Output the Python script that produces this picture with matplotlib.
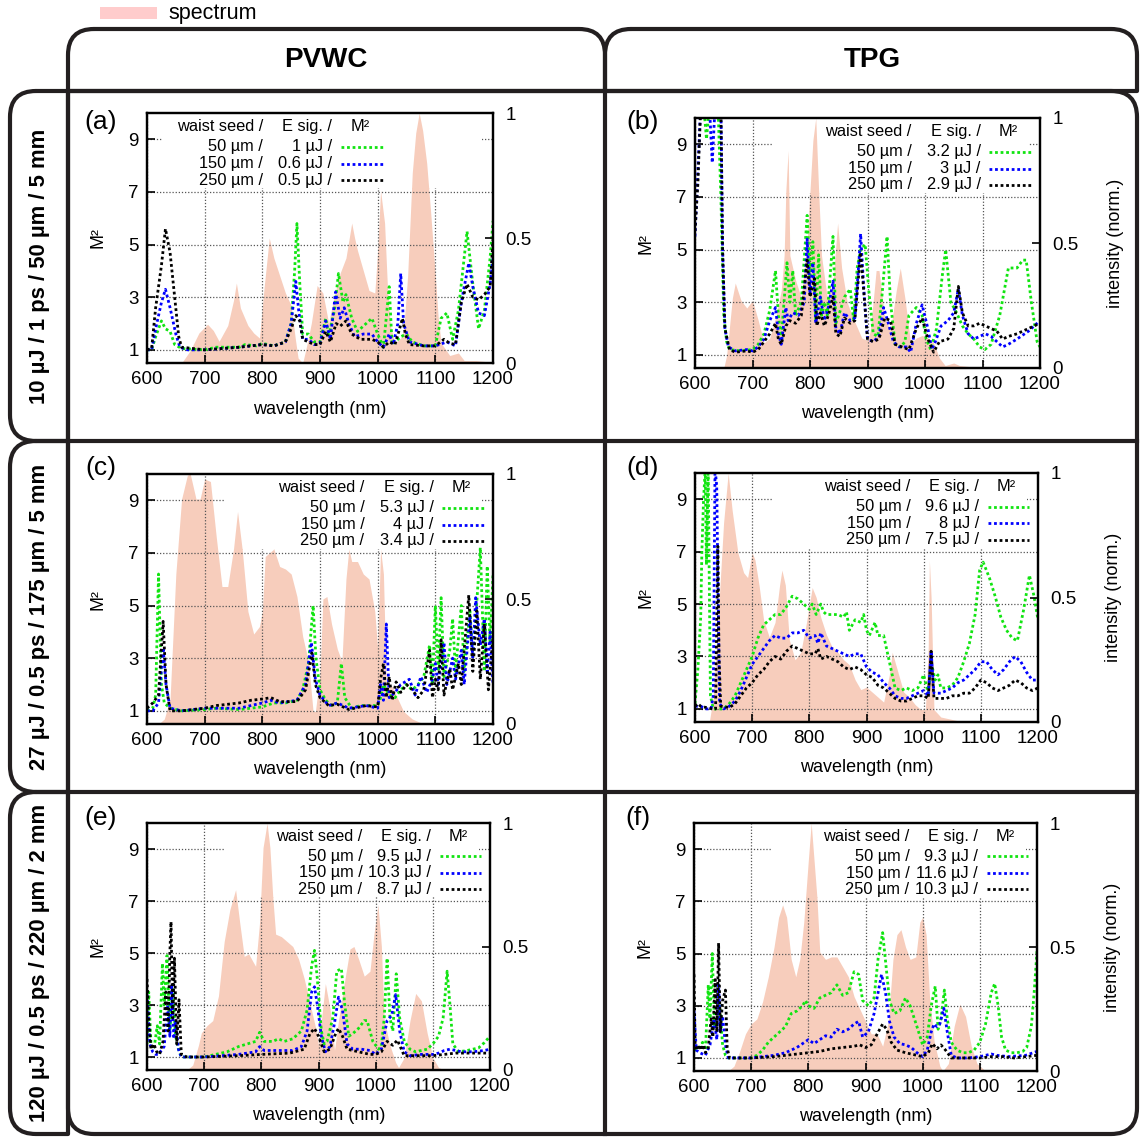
import numpy as np
import matplotlib
matplotlib.use('Agg')
import matplotlib.pyplot as plt
from matplotlib.path import Path
from matplotlib.patches import PathPatch, Rectangle

plt.rcParams['font.family'] = ['Liberation Sans', 'DejaVu Sans']

# Подписи столбцов и строк.
col_titles = ['PVWC', 'TPG']
row_titles = ['10 µJ / 1 ps / 50 µm / 5 mm',
              '27 µJ / 0.5 ps / 175 µm / 5 mm',
              '120 µJ / 0.5 ps / 220 µm / 2 mm']
tags = ['(a)', '(b)', '(c)', '(d)', '(e)', '(f)']
seeds = ['50 µm /', '150 µm /', '250 µm /']
energies = [['1 µJ /', '0.6 µJ /', '0.5 µJ /'],
            ['3.2 µJ /', '3 µJ /', '2.9 µJ /'],
            ['5.3 µJ /', '4 µJ /', '3.4 µJ /'],
            ['9.6 µJ /', '8 µJ /', '7.5 µJ /'],
            ['9.5 µJ /', '10.3 µJ /', '8.7 µJ /'],
            ['9.3 µJ /', '11.6 µJ /', '10.3 µJ /']]

# ---- (a) ----
a_spec = [(600, 0), (660, 0), (675, 0.05), (690, 0.12), (705, 0.155), (715, 0.13), (725, 0.087),
          (740, 0.15), (750, 0.25), (755, 0.32), (762, 0.22), (775, 0.15), (785, 0.12), (795, 0.10),
          (803, 0.3), (812, 0.50), (820, 0.42), (830, 0.35), (840, 0.28), (850, 0.23), (857, 0.1),
          (862, 0.02), (870, 0.0), (878, 0.08), (885, 0.16), (895, 0.31), (905, 0.28), (915, 0.16),
          (925, 0.27), (935, 0.36), (945, 0.42), (955, 0.56), (960, 0.5), (965, 0.45), (975, 0.37),
          (985, 0.29), (995, 0.28), (1000, 0.45), (1005, 0.69), (1012, 0.56), (1017, 0.3), (1022, 0.15),
          (1030, 0.08), (1040, 0.10), (1045, 0.13), (1052, 0.35), (1060, 0.76), (1066, 0.92), (1072, 1.0),
          (1078, 0.93), (1085, 0.8), (1092, 0.6), (1100, 0.35), (1105, 0.18), (1110, 0.08), (1125, 0.03),
          (1140, 0.04), (1150, 0.01), (1170, 0.01), (1190, 0.005), (1200, 0)]
a_green = [(600, 1.0), (608, 1.0), (615, 1.5), (625, 2.1), (632, 1.8), (640, 1.7), (648, 1.2), (660, 1.05),
           (700, 1.0), (720, 1.1), (760, 1.1), (770, 1.2), (790, 1.15), (800, 1.25), (820, 1.15), (840, 1.3),
           (850, 2.0), (856, 4.0), (860, 5.8), (865, 3.5), (870, 1.6), (880, 1.6), (890, 1.3), (900, 1.3),
           (910, 2.2), (915, 1.5), (925, 2.5), (932, 3.9), (940, 2.8), (945, 3.1), (955, 2.2), (965, 1.7),
           (975, 1.9), (990, 2.2), (1000, 1.6), (1010, 1.1), (1020, 3.4), (1025, 1.2), (1040, 1.5),
           (1050, 1.6), (1060, 1.3), (1080, 1.15), (1100, 1.15), (1110, 2.2), (1120, 2.4), (1130, 1.4),
           (1140, 2.5), (1155, 5.5), (1165, 3.5), (1175, 1.8), (1185, 2.5), (1195, 4.5), (1200, 5.9)]
a_blue = [(600, 1.0), (608, 1.0), (615, 1.8), (625, 2.8), (632, 3.3), (640, 2.6), (650, 1.6), (657, 1.1),
          (670, 1.0), (700, 1.0), (760, 1.1), (800, 1.2), (820, 1.15), (840, 1.3), (850, 2.0), (858, 3.6),
          (863, 2.5), (870, 1.4), (880, 1.4), (890, 1.2), (900, 1.25), (910, 2.1), (918, 1.4), (927, 3.2),
          (935, 2.2), (942, 2.6), (950, 2.0), (960, 1.5), (975, 1.6), (990, 1.6), (1000, 1.3), (1010, 1.1),
          (1020, 1.6), (1027, 1.2), (1035, 2.0), (1040, 3.9), (1045, 2.0), (1055, 1.3), (1080, 1.15),
          (1100, 1.15), (1120, 1.3), (1135, 1.15), (1145, 2.8), (1158, 4.3), (1165, 3.4), (1175, 2.4),
          (1185, 2.3), (1195, 3.5), (1200, 4.5)]
a_black = [(600, 1.0), (608, 1.05), (615, 2.6), (625, 4.2), (632, 5.6), (640, 4.7), (648, 3.0), (655, 1.5),
           (660, 1.1), (700, 1.0), (760, 1.1), (800, 1.2), (820, 1.15), (840, 1.3), (850, 1.8), (858, 2.3),
           (865, 2.1), (870, 1.4), (890, 1.2), (900, 1.2), (910, 1.7), (918, 1.3), (928, 2.0), (935, 1.9),
           (945, 2.1), (955, 1.6), (970, 1.4), (990, 1.4), (1000, 1.3), (1010, 1.1), (1020, 1.3), (1030, 1.2),
           (1038, 1.8), (1043, 2.2), (1048, 1.6), (1055, 1.2), (1080, 1.15), (1100, 1.15), (1115, 1.4),
           (1125, 1.25), (1135, 1.2), (1145, 2.8), (1155, 3.5), (1165, 3.0), (1175, 2.9), (1185, 3.1),
           (1195, 3.4), (1200, 5.2)]

# ---- (b) ----
b_spec = [(600, 0), (650, 0), (655, 0.05), (665, 0.28), (670, 0.34), (680, 0.27), (690, 0.24), (700, 0.27),
          (710, 0.19), (720, 0.10), (730, 0.12), (740, 0.2), (750, 0.31), (755, 0.45), (758, 0.71), (762, 0.87),
          (765, 0.45), (775, 0.35), (785, 0.28), (795, 0.51), (800, 0.71), (805, 0.91), (810, 1.0), (815, 0.71),
          (820, 0.45), (830, 0.28), (840, 0.34), (848, 0.58), (855, 0.4), (865, 0.26), (875, 0.2), (890, 0.12),
          (900, 0.11), (905, 0.15), (915, 0.39), (920, 0.39), (930, 0.2), (940, 0.15), (950, 0.31), (957, 0.4),
          (965, 0.28), (975, 0.1), (985, 0.12), (995, 0.13), (1005, 0.12), (1015, 0.1), (1025, 0.04),
          (1035, 0.01), (1050, 0.02), (1060, 0.01), (1080, 0.005), (1100, 0), (1200, 0)]
b_green = [(600, 10.5), (615, 10.5), (620, 9.2), (625, 10.5), (640, 10.5), (645, 7), (650, 2.5), (655, 1.5),
           (660, 1.2), (680, 1.15), (700, 1.2), (710, 1.4), (720, 1.8), (730, 2.7), (740, 4.2), (745, 2.5),
           (750, 1.6), (760, 4.5), (765, 3.0), (770, 4.2), (775, 2.5), (785, 3.0), (795, 6.3), (800, 4.0),
           (805, 5.3), (810, 2.3), (815, 4.8), (820, 2.5), (825, 3.0), (830, 2.5), (840, 5.5), (845, 2.2),
           (850, 2.5), (860, 3.2), (870, 3.5), (876, 2.3), (882, 4.3), (888, 5.0), (896, 5.2), (902, 3.5),
           (910, 1.8), (918, 1.7), (925, 3.2), (934, 5.5), (940, 3.0), (948, 1.4), (958, 1.3), (965, 1.5),
           (972, 2.5), (985, 2.8), (995, 2.5), (1002, 1.6), (1010, 1.2), (1020, 2.0), (1030, 4.0), (1036, 5.0),
           (1045, 3.0), (1055, 2.6), (1065, 2.1), (1075, 1.8), (1085, 1.6), (1095, 1.3), (1104, 1.2),
           (1115, 1.4), (1130, 2.5), (1145, 4.3), (1152, 4.3), (1160, 4.3), (1170, 4.6), (1176, 4.6),
           (1185, 3.0), (1195, 1.5), (1200, 1.3)]
b_blue = [(600, 5.5), (605, 8), (610, 10.5), (625, 10.5), (630, 8.3), (635, 10.5), (645, 10.5), (648, 5),
          (652, 2), (658, 1.3), (670, 1.15), (690, 1.2), (700, 1.15), (710, 1.3), (720, 1.6), (730, 2.3),
          (740, 2.8), (745, 1.8), (750, 1.4), (758, 2.8), (762, 2.3), (770, 2.6), (780, 2.5), (790, 3.0),
          (795, 5.4), (800, 3.3), (805, 4.5), (810, 2.2), (818, 3.2), (825, 2.3), (832, 2.8), (840, 3.8),
          (845, 2.0), (852, 1.8), (860, 2.6), (870, 2.3), (878, 2.4), (885, 4.5), (888, 5.6), (895, 3.0),
          (900, 1.6), (910, 1.5), (920, 1.7), (928, 2.8), (935, 2.3), (945, 1.5), (955, 1.3), (968, 1.3),
          (975, 1.1), (985, 2.2), (995, 2.9), (1005, 2.0), (1012, 1.2), (1018, 1.5), (1028, 2.1), (1040, 2.3),
          (1050, 2.6), (1058, 3.5), (1065, 2.5), (1075, 1.8), (1085, 1.6), (1095, 1.7), (1105, 1.8),
          (1115, 1.7), (1125, 1.5), (1135, 1.3), (1145, 1.4), (1160, 1.6), (1180, 1.9), (1200, 2.3)]
b_black = [(600, 5.7), (605, 7.5), (610, 10.5), (645, 10.5), (648, 5), (652, 2), (660, 1.2), (670, 1.1),
           (690, 1.15), (700, 1.1), (710, 1.2), (720, 1.5), (730, 1.8), (740, 2.2), (745, 1.6), (750, 1.4),
           (758, 2.1), (765, 2.3), (775, 2.2), (785, 2.5), (795, 4.6), (800, 3.2), (808, 3.9), (812, 2.1),
           (818, 2.6), (825, 2.1), (832, 2.5), (840, 3.2), (845, 1.8), (852, 1.7), (860, 2.4), (870, 2.2),
           (878, 2.3), (888, 4.9), (895, 3.0), (900, 1.6), (910, 1.5), (920, 1.6), (930, 2.4), (940, 2.3),
           (948, 1.4), (960, 1.3), (972, 1.2), (985, 2.0), (995, 2.4), (1005, 1.6), (1015, 1.1), (1025, 1.5),
           (1040, 1.6), (1050, 2.0), (1058, 3.6), (1065, 2.6), (1075, 2.1), (1085, 2.1), (1095, 2.2),
           (1105, 2.1), (1115, 2.0), (1125, 1.9), (1135, 1.6), (1145, 1.7), (1160, 1.8), (1180, 2.0), (1200, 2.2)]

# ---- (c) ----
c_spec = [(600, 0), (620, 0), (630, 0.02), (640, 0.1), (650, 0.6), (660, 0.9), (670, 0.995), (675, 1.0),
          (685, 0.9), (692, 0.9), (700, 0.98), (710, 0.97), (720, 0.75), (730, 0.55), (740, 0.55), (750, 0.7),
          (757, 0.85), (765, 0.7), (775, 0.45), (785, 0.36), (795, 0.39), (800, 0.45), (805, 0.67), (815, 0.69),
          (820, 0.7), (830, 0.63), (840, 0.62), (850, 0.6), (860, 0.51), (870, 0.35), (880, 0.25), (888, 0.05),
          (892, 0.05), (900, 0.2), (905, 0.5), (912, 0.51), (920, 0.4), (930, 0.3), (938, 0.25), (945, 0.58),
          (950, 0.7), (955, 0.65), (965, 0.65), (975, 0.6), (985, 0.58), (995, 0.45), (1000, 0.3), (1005, 0.7),
          (1010, 0.6), (1015, 0.15), (1025, 0.15), (1035, 0.1), (1045, 0.05), (1060, 0.02), (1080, 0.0),
          (1200, 0)]
c_green = [(600, 1.0), (610, 1.1), (615, 1.6), (620, 6.2), (625, 2.0), (630, 1.3), (640, 1.1), (660, 1.0),
           (700, 1.05), (720, 1.1), (760, 1.05), (800, 1.15), (820, 1.3), (840, 1.3), (860, 1.4), (870, 1.8),
           (880, 2.8), (888, 5.0), (893, 3.0), (900, 1.8), (910, 1.4), (920, 1.2), (930, 1.3), (937, 2.8),
           (943, 1.5), (955, 1.1), (970, 1.2), (985, 1.2), (1000, 1.2), (1005, 1.5), (1010, 2.0), (1020, 1.6),
           (1030, 1.5), (1040, 1.8), (1050, 2.0), (1060, 1.8), (1070, 2.0), (1080, 2.3), (1090, 3.5),
           (1095, 2.0), (1100, 5.0), (1105, 2.5), (1110, 5.3), (1115, 2.3), (1125, 3.3), (1130, 4.5),
           (1135, 2.5), (1145, 5.0), (1150, 2.5), (1160, 4.8), (1165, 3.0), (1170, 4.5), (1178, 7.2),
           (1185, 2.5), (1190, 6.5), (1195, 3.5), (1200, 6.2)]
c_blue = [(600, 1.0), (610, 1.0), (620, 1.3), (628, 3.4), (633, 2.0), (640, 1.1), (660, 1.0), (700, 1.1),
          (760, 1.1), (800, 1.3), (815, 1.4), (830, 1.3), (860, 1.4), (875, 2.0), (885, 3.6), (892, 2.2),
          (900, 1.6), (915, 1.2), (930, 1.3), (940, 1.2), (950, 1.1), (980, 1.2), (1000, 1.1), (1005, 2.0),
          (1010, 1.4), (1015, 4.3), (1020, 1.5), (1030, 1.7), (1040, 2.0), (1055, 2.2), (1065, 1.6),
          (1075, 2.3), (1085, 1.7), (1095, 2.2), (1100, 2.8), (1105, 2.0), (1115, 3.6), (1120, 2.0),
          (1130, 3.0), (1135, 2.2), (1145, 3.3), (1150, 2.0), (1160, 4.6), (1165, 3.0), (1170, 5.3),
          (1178, 3.5), (1185, 4.5), (1190, 2.5), (1195, 4.0), (1200, 2.0)]
c_black = [(600, 1.1), (610, 1.3), (620, 1.6), (628, 4.4), (633, 2.0), (640, 1.0), (660, 1.0), (700, 1.1),
           (720, 1.2), (760, 1.3), (780, 1.4), (800, 1.45), (815, 1.5), (830, 1.35), (860, 1.35), (875, 1.8),
           (886, 3.2), (892, 2.0), (900, 1.5), (915, 1.2), (930, 1.25), (940, 1.15), (950, 1.05), (980, 1.2),
           (1000, 1.15), (1005, 2.2), (1010, 2.8), (1015, 1.5), (1020, 2.3), (1025, 1.4), (1032, 2.1),
           (1040, 1.7), (1050, 2.0), (1060, 1.8), (1070, 1.5), (1080, 1.8), (1090, 3.3), (1095, 1.5),
           (1100, 2.2), (1105, 1.8), (1110, 3.7), (1115, 1.6), (1125, 2.6), (1130, 1.8), (1140, 2.8),
           (1145, 2.0), (1158, 5.4), (1165, 2.5), (1172, 4.8), (1178, 2.2), (1185, 4.3), (1192, 1.8),
           (1200, 3.8)]

# ---- (d) ----
d_spec = [(600, 0), (625, 0), (632, 0.1), (640, 0.4), (650, 0.8), (658, 1.0), (665, 0.85), (675, 0.68),
          (685, 0.6), (692, 0.58), (700, 0.68), (705, 0.65), (712, 0.55), (720, 0.41), (730, 0.34), (740, 0.4),
          (748, 0.55), (752, 0.61), (758, 0.55), (765, 0.33), (775, 0.25), (785, 0.28), (795, 0.4), (805, 0.54),
          (812, 0.5), (820, 0.42), (830, 0.35), (840, 0.3), (850, 0.28), (860, 0.25), (870, 0.23), (880, 0.17),
          (890, 0.13), (900, 0.14), (910, 0.12), (920, 0.1), (930, 0.08), (940, 0.19), (945, 0.28), (955, 0.2),
          (965, 0.12), (975, 0.1), (985, 0.07), (995, 0.05), (1003, 0.05), (1008, 0.3), (1010, 0.65),
          (1013, 0.5), (1018, 0.05), (1030, 0.02), (1050, 0.01), (1070, 0.0), (1200, 0)]
d_green = [(600, 1.2), (605, 2.5), (610, 4.5), (612, 7), (615, 9), (618, 10.2), (620, 6.5), (623, 10.2),
           (627, 1.5), (632, 1.0), (640, 1.0), (650, 1.0), (660, 1.2), (670, 1.5), (680, 2.0), (690, 2.5),
           (700, 3.0), (710, 3.7), (720, 4.2), (730, 4.4), (740, 4.6), (750, 4.6), (760, 4.9), (770, 5.3),
           (780, 5.2), (790, 5.0), (800, 4.8), (805, 5.0), (812, 4.6), (820, 5.0), (825, 4.7), (830, 4.6),
           (840, 4.6), (850, 4.6), (860, 4.5), (865, 4.7), (870, 4.0), (880, 4.4), (890, 4.3), (895, 4.6),
           (900, 4.0), (905, 3.8), (915, 4.3), (920, 3.8), (930, 3.8), (940, 2.8), (950, 1.8), (960, 1.7),
           (970, 1.8), (980, 1.7), (990, 1.8), (1000, 2.3), (1008, 1.6), (1013, 2.8), (1020, 2.1),
           (1025, 2.3), (1030, 1.8), (1040, 1.8), (1050, 1.9), (1060, 2.2), (1070, 2.8), (1080, 3.5),
           (1090, 4.6), (1098, 6.3), (1104, 6.6), (1115, 6.0), (1125, 5.3), (1135, 4.5), (1145, 4.0),
           (1155, 3.7), (1164, 3.6), (1175, 4.8), (1185, 6.1), (1193, 5.3), (1200, 4.4)]
d_blue = [(600, 1.1), (610, 1.1), (620, 1.0), (628, 1.0), (632, 1.5), (635, 10.2), (638, 9.5), (640, 6),
          (643, 1.2), (650, 1.0), (660, 1.1), (670, 1.3), (680, 1.7), (690, 2.2), (700, 2.7), (710, 3.0),
          (720, 3.3), (730, 3.6), (740, 3.8), (750, 3.7), (760, 3.7), (770, 3.9), (780, 3.9), (790, 4.0),
          (800, 3.7), (810, 3.8), (815, 3.5), (820, 3.9), (830, 3.4), (840, 3.3), (850, 3.2), (860, 3.1),
          (870, 3.0), (880, 3.1), (890, 3.1), (900, 2.6), (910, 2.4), (920, 2.3), (930, 2.0), (940, 1.8),
          (950, 1.5), (960, 1.4), (970, 1.4), (980, 1.5), (990, 1.6), (1000, 1.7), (1008, 1.5), (1013, 3.2),
          (1018, 1.6), (1030, 1.6), (1040, 1.7), (1050, 1.8), (1060, 2.0), (1070, 2.1), (1080, 2.3),
          (1090, 2.5), (1100, 2.8), (1110, 2.8), (1120, 2.5), (1130, 2.3), (1140, 2.5), (1150, 2.8),
          (1160, 3.0), (1170, 2.8), (1180, 2.4), (1190, 2.1), (1200, 2.1)]
d_black = [(600, 1.1), (605, 1.2), (610, 1.1), (620, 1.05), (630, 1.0), (636, 1.0), (638, 4.5), (640, 7.2),
           (642, 3), (645, 1.1), (660, 1.05), (670, 1.2), (680, 1.5), (690, 1.8), (700, 2.0), (710, 2.3),
           (720, 2.5), (730, 2.8), (740, 3.0), (750, 2.9), (760, 3.2), (770, 3.4), (780, 3.3), (790, 3.2),
           (800, 3.1), (810, 3.1), (815, 3.3), (820, 2.9), (830, 3.0), (840, 2.9), (850, 2.8), (860, 2.6),
           (870, 2.5), (880, 2.6), (890, 2.5), (900, 2.3), (910, 2.2), (920, 1.9), (930, 1.8), (940, 1.6),
           (950, 1.4), (960, 1.3), (970, 1.3), (980, 1.4), (990, 1.5), (1000, 1.5), (1008, 1.4), (1013, 3.2),
           (1018, 1.4), (1030, 1.4), (1040, 1.4), (1050, 1.5), (1060, 1.5), (1070, 1.6), (1080, 1.6),
           (1090, 1.8), (1100, 2.1), (1110, 2.0), (1120, 1.8), (1130, 1.7), (1140, 1.8), (1150, 1.9),
           (1160, 2.1), (1170, 2.0), (1180, 1.8), (1190, 1.7), (1200, 1.8)]

# ---- (e) ----
e_spec = [(600, 0), (670, 0), (680, 0.02), (690, 0.1), (695, 0.15), (705, 0.18), (715, 0.2), (725, 0.3),
          (735, 0.52), (745, 0.65), (755, 0.73), (762, 0.6), (770, 0.46), (778, 0.47), (785, 0.44), (790, 0.42),
          (797, 0.6), (803, 0.9), (810, 1.0), (815, 0.9), (820, 0.7), (825, 0.55), (835, 0.54), (845, 0.52),
          (855, 0.5), (865, 0.45), (875, 0.37), (885, 0.27), (895, 0.17), (900, 0.1), (905, 0.2), (912, 0.35),
          (920, 0.25), (928, 0.08), (935, 0.2), (945, 0.35), (955, 0.49), (962, 0.5), (970, 0.45), (980, 0.38),
          (990, 0.4), (997, 0.55), (1004, 0.67), (1010, 0.5), (1015, 0.2), (1025, 0.1), (1035, 0.03),
          (1040, 0.01), (1050, 0.05), (1060, 0.2), (1070, 0.31), (1080, 0.28), (1090, 0.15), (1100, 0.05),
          (1110, 0.01), (1120, 0), (1200, 0)]
e_green = [(600, 1.5), (603, 3.5), (607, 1.5), (612, 1.3), (618, 2.2), (622, 1.5), (627, 4.6), (630, 3),
           (635, 4.9), (640, 2), (645, 3.6), (650, 1.8), (655, 1.3), (660, 1.0), (700, 1.0), (720, 1.1),
           (740, 1.2), (760, 1.4), (775, 1.5), (790, 1.6), (797, 1.95), (805, 1.6), (820, 1.6), (830, 1.7),
           (840, 1.6), (855, 1.7), (870, 2.0), (880, 2.8), (888, 4.5), (893, 5.1), (898, 4.0), (905, 2.0),
           (910, 1.5), (915, 1.6), (925, 2.5), (932, 4.3), (940, 4.4), (946, 3.0), (953, 1.8), (960, 1.9),
           (970, 2.1), (980, 2.4), (985, 2.4), (995, 1.6), (1005, 1.3), (1010, 1.4), (1015, 2.5), (1020, 4.8),
           (1025, 2.5), (1030, 2.0), (1036, 4.2), (1042, 2.5), (1050, 1.6), (1060, 1.3), (1070, 1.2),
           (1080, 1.25), (1090, 1.3), (1100, 1.5), (1110, 1.8), (1118, 2.5), (1125, 4.3), (1130, 3.0),
           (1135, 1.5), (1145, 1.2), (1160, 1.25), (1180, 1.35), (1190, 1.55), (1200, 1.8)]
e_blue = [(600, 3.4), (605, 1.5), (610, 1.2), (615, 1.1), (620, 1.1), (630, 1.4), (636, 3.0), (640, 1.8),
          (643, 3.8), (647, 1.7), (650, 2.4), (655, 1.3), (660, 1.0), (700, 1.0), (760, 1.1), (790, 1.2),
          (797, 1.4), (805, 1.25), (830, 1.25), (855, 1.25), (870, 1.4), (880, 2.0), (888, 3.5), (893, 3.7),
          (898, 3.0), (905, 1.8), (912, 1.2), (920, 1.4), (928, 2.3), (935, 3.3), (942, 2.8), (950, 1.5),
          (960, 1.3), (975, 1.3), (990, 1.25), (1000, 1.1), (1010, 1.3), (1020, 2.4), (1028, 2.6),
          (1035, 3.4), (1042, 2.0), (1050, 1.2), (1060, 1.05), (1080, 1.1), (1100, 1.1), (1110, 1.15),
          (1120, 1.25), (1130, 1.3), (1150, 1.2), (1170, 1.2), (1190, 1.25), (1200, 1.3)]
e_black = [(600, 4.0), (603, 2.5), (607, 1.3), (612, 1.5), (617, 1.2), (622, 1.1), (628, 1.6), (633, 3.5),
           (637, 2.0), (640, 5.0), (642, 6.2), (645, 2.5), (648, 4.8), (652, 1.5), (656, 3.2), (660, 1.1),
           (670, 1.0), (700, 1.0), (760, 1.05), (800, 1.1), (850, 1.15), (875, 1.3), (885, 1.9), (893, 2.1),
           (900, 1.8), (910, 1.2), (920, 1.3), (930, 1.9), (935, 2.1), (942, 1.8), (950, 1.3), (970, 1.2),
           (990, 1.1), (1000, 1.1), (1010, 1.2), (1020, 1.6), (1030, 1.45), (1038, 1.65), (1045, 1.3),
           (1050, 1.05), (1080, 1.05), (1100, 1.05), (1120, 1.1), (1140, 1.15), (1160, 1.15), (1180, 1.15),
           (1200, 1.15)]

# ---- (f) ----
f_spec = [(600, 0), (660, 0), (670, 0.02), (680, 0.08), (690, 0.15), (700, 0.19), (710, 0.21), (720, 0.28),
          (730, 0.38), (740, 0.5), (748, 0.62), (755, 0.67), (762, 0.62), (770, 0.45), (778, 0.38), (785, 0.45),
          (792, 0.6), (800, 0.85), (805, 1.0), (810, 0.85), (815, 0.7), (820, 0.48), (830, 0.45), (840, 0.46),
          (850, 0.46), (860, 0.42), (870, 0.38), (880, 0.3), (890, 0.25), (900, 0.2), (910, 0.15), (920, 0.15),
          (930, 0.1), (940, 0.2), (948, 0.45), (955, 0.55), (962, 0.57), (970, 0.5), (978, 0.45), (988, 0.46),
          (995, 0.6), (1000, 0.62), (1006, 0.55), (1012, 0.3), (1020, 0.12), (1030, 0.02), (1035, 0.0),
          (1045, 0.03), (1055, 0.18), (1065, 0.27), (1075, 0.22), (1085, 0.1), (1095, 0.03), (1110, 0.0),
          (1200, 0)]
f_green = [(600, 1.3), (605, 1.3), (610, 1.4), (615, 1.6), (620, 1.3), (625, 3.8), (628, 2.5), (632, 5.0),
           (636, 2.2), (640, 2.5), (645, 3.0), (650, 1.5), (655, 1.1), (660, 1.0), (700, 1.0), (710, 1.1),
           (720, 1.3), (730, 1.6), (740, 1.8), (750, 2.0), (760, 2.2), (770, 2.7), (780, 2.8), (790, 3.0),
           (795, 3.2), (800, 3.0), (810, 2.9), (820, 3.3), (830, 3.4), (840, 3.5), (850, 3.8), (860, 3.4),
           (870, 3.5), (880, 4.3), (888, 4.2), (895, 3.2), (905, 3.0), (915, 3.3), (922, 4.8), (930, 5.8),
           (936, 4.5), (942, 3.2), (950, 2.7), (960, 2.8), (970, 3.3), (978, 3.0), (990, 2.2), (1000, 1.5),
           (1008, 1.8), (1015, 3.0), (1022, 3.75), (1027, 2.1), (1032, 2.5), (1038, 3.6), (1043, 2.5),
           (1050, 1.6), (1060, 1.3), (1070, 1.2), (1080, 1.2), (1090, 1.3), (1100, 1.6), (1110, 2.3),
           (1120, 3.5), (1126, 3.85), (1132, 3.0), (1138, 1.8), (1145, 1.3), (1155, 1.2), (1165, 1.2),
           (1175, 1.25), (1182, 1.4), (1190, 2.2), (1195, 3.5), (1200, 5.1)]
f_blue = [(600, 2.8), (604, 1.3), (610, 1.2), (620, 1.1), (628, 1.5), (635, 2.5), (640, 1.7), (643, 3.8),
          (646, 2.0), (650, 2.6), (655, 1.5), (660, 1.0), (700, 1.0), (720, 1.05), (740, 1.1), (760, 1.2),
          (780, 1.4), (800, 1.7), (810, 1.55), (820, 1.7), (830, 1.85), (840, 1.8), (850, 2.1), (860, 2.0),
          (870, 2.1), (880, 2.3), (888, 2.4), (895, 1.8), (905, 2.0), (915, 2.7), (922, 3.5), (928, 4.2),
          (935, 3.5), (942, 2.4), (950, 1.8), (960, 1.55), (970, 1.5), (980, 1.4), (990, 1.2), (1000, 1.05),
          (1008, 1.3), (1015, 2.0), (1020, 2.3), (1025, 2.2), (1030, 2.3), (1037, 2.9), (1043, 2.0),
          (1050, 1.1), (1060, 1.0), (1080, 1.0), (1100, 1.05), (1110, 1.1), (1120, 1.15), (1130, 1.1),
          (1150, 1.05), (1180, 1.1), (1200, 1.25)]
f_black = [(600, 4.2), (602, 1.5), (605, 1.3), (610, 1.5), (613, 1.3), (617, 1.5), (620, 1.2), (625, 1.4),
           (630, 2.5), (633, 1.8), (637, 4.0), (640, 2.0), (643, 5.4), (646, 2.0), (650, 3.2), (655, 3.6),
           (658, 1.4), (662, 1.0), (700, 1.0), (740, 1.05), (760, 1.1), (780, 1.15), (800, 1.2), (820, 1.25),
           (840, 1.35), (860, 1.4), (880, 1.45), (890, 1.5), (900, 1.4), (910, 1.5), (920, 1.9), (930, 2.3),
           (937, 2.1), (945, 1.6), (955, 1.3), (970, 1.2), (990, 1.1), (1000, 1.05), (1010, 1.2),
           (1017, 1.55), (1025, 1.35), (1032, 1.5), (1040, 1.3), (1050, 1.0), (1080, 1.0), (1100, 1.0),
           (1120, 1.05), (1140, 1.05), (1160, 1.0), (1180, 1.05), (1200, 1.1)]

spectra = [a_spec, b_spec, c_spec, d_spec, e_spec, f_spec]
greens = [a_green, b_green, c_green, d_green, e_green, f_green]
blues = [a_blue, b_blue, c_blue, d_blue, e_blue, f_blue]
blacks = [a_black, b_black, c_black, d_black, e_black, f_black]

W, H = 1140, 1138
fig = plt.figure(figsize=(W / 100, H / 100), dpi=100)

# Рамки-таблица на фоне (координаты в пикселях).
bg = fig.add_axes([0, 0, 1, 1])
bg.set_xlim(0, W)
bg.set_ylim(H, 0)
bg.axis('off')
frame_kw = dict(facecolor='none', edgecolor='#231f20', linewidth=3.0, capstyle='round', joinstyle='round')


def rbox(x0, y0, x1, y1, r):
    tl, tr, br, bl = r
    verts = [(x0 + tl, y0), (x1 - tr, y0), (x1, y0), (x1, y0 + tr), (x1, y1 - br), (x1, y1),
             (x1 - br, y1), (x0 + bl, y1), (x0, y1), (x0, y1 - bl), (x0, y0 + tl), (x0, y0), (x0 + tl, y0)]
    codes = [Path.MOVETO, Path.LINETO, Path.CURVE3, Path.CURVE3, Path.LINETO, Path.CURVE3, Path.CURVE3,
             Path.LINETO, Path.CURVE3, Path.CURVE3, Path.LINETO, Path.CURVE3, Path.CURVE3]
    bg.add_patch(PathPatch(Path(verts, codes), **frame_kw))


xs = [10, 68, 605, 1137]
ys = [29, 91, 441, 792, 1134]
R = 26
rbox(xs[1], ys[0], xs[2], ys[1], (R, R, 0, 0))
rbox(xs[2], ys[0], xs[3], ys[1], (R, R, 0, 0))
for i in range(3):
    rbox(xs[0], ys[i + 1], xs[1], ys[i + 2], (R, 0, 0, R))
rbox(xs[1], ys[1], xs[3], ys[4], (0, R, R, R))
bg.plot([xs[2], xs[2]], [ys[1], ys[4]], color='#231f20', lw=3.0)
for yy in ys[2:4]:
    bg.plot([xs[1], xs[3]], [yy, yy], color='#231f20', lw=3.0)

title_x = [326, 872]
for i, t in enumerate(col_titles):
    bg.text(title_x[i], 60, t, ha='center', va='center', fontsize=20, fontweight='bold')
for i, t in enumerate(row_titles):
    bg.text(40, (ys[i + 1] + ys[i + 2]) / 2, t, rotation=90, ha='center', va='center',
            fontsize=15.8, fontweight='bold')

# Общая легенда спектра.
bg.add_patch(Rectangle((100, 7), 57, 12, facecolor='#ffcccc', edgecolor='none'))
bg.text(168, 13, 'spectrum', ha='left', va='center', fontsize=15.5)

# Положения панелей (пиксели: x0, y0, x1, y1).
rects = [(147, 113, 493, 363), (695, 118, 1040, 368),
         (147, 474, 493, 724), (695, 473, 1038, 722),
         (147, 823, 490, 1070), (694, 823, 1037, 1071)]
tag_pos = [(101, 122), (643, 122), (101, 468), (643, 468), (101, 818), (638, 818)]
key_shift = [-0.293, 0, 0, 0, 0, 0]
box_x = [(0.046, 0.968), (0.225, 0.967), (0.225, 0.967), (0.225, 0.967), (0.225, 0.967), (0.225, 0.967)]

spec_color = '#f7cdbc'
line_colors = ['#11e411', '#0000ff', '#000000']
dots = (0, (1, 1))

for k in range(6):
    x0, y0, x1, y1 = rects[k]
    ax = fig.add_axes([x0 / W, 1 - y1 / H, (x1 - x0) / W, (y1 - y0) / H])
    ax2 = ax.twinx()
    ax.set_xlim(600, 1200)
    ax.set_ylim(0.5, 10)
    ax2.set_ylim(0, 1)

    sx, sy = np.array(spectra[k]).T
    ax.fill_between(sx, 0, sy, transform=ax2.transData, color=spec_color, lw=0, zorder=0.2)

    ax.set_axisbelow(True)
    ax.grid(True, color='#555555', linestyle=(0, (1, 1.5)), linewidth=0.9)

    bx0, bx1 = box_x[k]
    ax.add_patch(Rectangle((bx0, 0.70), bx1 - bx0, 0.30, transform=ax.transAxes,
                           facecolor='white', edgecolor='none', zorder=0.6))
    top = ax.fill_between(sx, 0, sy, transform=ax2.transData, color=spec_color, lw=0, zorder=0.7)
    top.set_clip_path(Rectangle((bx0, 0.70), bx1 - bx0, 0.30, transform=ax.transAxes))

    for data, c in zip((greens[k], blues[k], blacks[k]), line_colors):
        x, y = np.array(data).T
        ax.plot(x, y, color=c, lw=2.0, linestyle=dots, zorder=2)

    ax.set_xlim(600, 1200)
    ax.set_ylim(0.5, 10)
    ax.set_xticks(range(600, 1201, 100))
    ax.set_yticks([1, 3, 5, 7, 9])
    ax2.set_yticks([0, 0.5, 1])
    ax2.set_yticklabels(['0', '0.5', '1'])
    ax.tick_params(direction='in', length=6, width=1.2, labelsize=13.5, pad=6)
    ax2.tick_params(direction='in', length=6, width=1.2, labelsize=13.5, pad=9)
    for s in list(ax.spines.values()) + list(ax2.spines.values()):
        s.set_linewidth(1.6)

    ax.set_xlabel('wavelength (nm)', fontsize=13)
    ax.xaxis.set_label_coords(0.5, -0.15)
    ax.set_ylabel('M²', fontsize=13)
    ax.yaxis.set_label_coords(-0.117, 0.5)
    if k % 2 == 1:
        ax2.set_ylabel('intensity (norm.)', fontsize=13)
        ax2.yaxis.set_label_coords(1.195, 0.5)

    # Легенда в стиле gnuplot.
    s = key_shift[k]
    c1, c2, cm, sw0, sw1 = 0.628 + s, 0.828 + s, 0.908 + s, 0.853 + s, 0.975 + s
    rows_y = [0.945, 0.865, 0.798, 0.732]
    fs = 11.8
    ax.text(c1, rows_y[0], 'waist seed /', transform=ax.transAxes, ha='right', va='center', fontsize=fs)
    ax.text(c2, rows_y[0], 'E sig. /', transform=ax.transAxes, ha='right', va='center', fontsize=fs)
    ax.text(cm, rows_y[0], 'M²', transform=ax.transAxes, ha='center', va='center', fontsize=fs)
    for j in range(3):
        yy = rows_y[j + 1]
        ax.text(c1, yy, seeds[j], transform=ax.transAxes, ha='right', va='center', fontsize=fs)
        ax.text(c2, yy, energies[k][j], transform=ax.transAxes, ha='right', va='center', fontsize=fs)
        ax.plot([sw0, sw1], [yy, yy], transform=ax.transAxes, color=line_colors[j], lw=2.0,
                linestyle=dots, zorder=3)

    tx, ty = tag_pos[k]
    bg.text(tx, ty, tags[k], ha='center', va='center', fontsize=19)

fig.savefig('out.png', dpi=100)
